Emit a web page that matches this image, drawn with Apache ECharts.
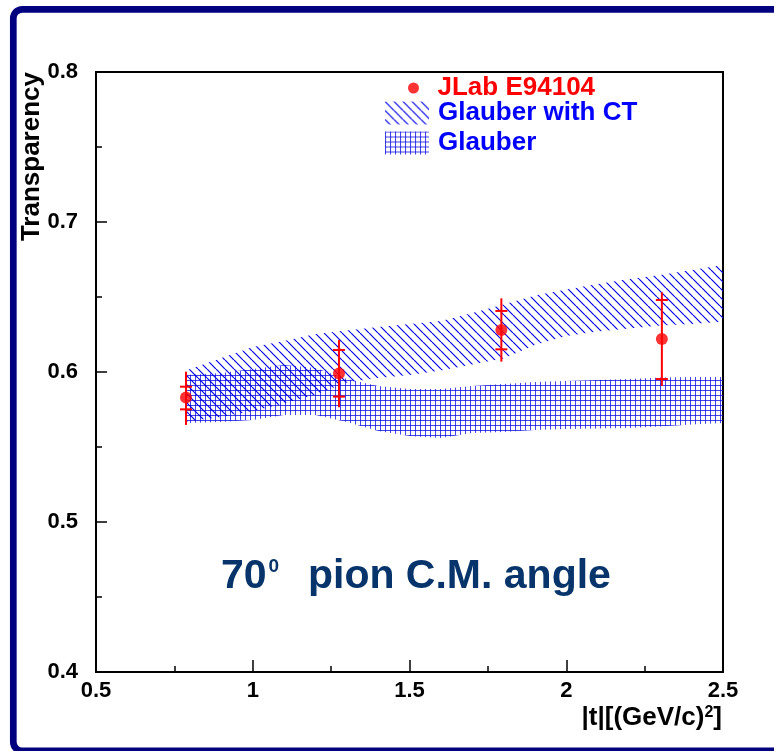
<!DOCTYPE html>
<html>
<head>
<meta charset="utf-8">
<script src="https://cdn.jsdelivr.net/npm/echarts@6/dist/echarts.min.js"></script>
<style>
html, body { margin: 0; padding: 0; background: #fff; }
#chart { width: 774px; height: 751px; }
</style>
</head>
<body>
<div id="chart"></div>
<script>
// 数据点 JLab E94104
const tVals = [0.787, 1.275, 1.793, 2.305]
const transp = [0.583, 0.599, 0.628, 0.622]
const statLo = [0.5751, 0.5836, 0.6151, 0.5953]
const statHi = [0.5902, 0.6147, 0.6407, 0.648]
const totLo = [0.5647, 0.5765, 0.6069, 0.5907]
const totHi = [0.6002, 0.6213, 0.6491, 0.6531]

// 理论带
const bandX = [0.787, 0.9, 1.0, 1.1, 1.2, 1.3, 1.4, 1.5, 1.6, 1.7, 1.8, 1.9, 2.0, 2.1, 2.2, 2.3, 2.4, 2.5]
const ctHigh = [0.601, 0.6093, 0.6167, 0.6207, 0.6253, 0.6277, 0.630, 0.632, 0.634, 0.6393, 0.645, 0.651, 0.655, 0.6587, 0.662, 0.6647, 0.668, 0.6713]
const ctLow = [0.567, 0.570, 0.574, 0.579, 0.585, 0.593, 0.596, 0.598, 0.601, 0.605, 0.609, 0.618, 0.624, 0.627, 0.629, 0.631, 0.632, 0.6335]
const glHigh = [0.598, 0.5993, 0.602, 0.6047, 0.6027, 0.5953, 0.5907, 0.5887, 0.5887, 0.5907, 0.592, 0.5933, 0.594, 0.5947, 0.5953, 0.5963, 0.5967, 0.5967]
const glLow = [0.566, 0.5667, 0.568, 0.5713, 0.5713, 0.5667, 0.5607, 0.5573, 0.556, 0.5593, 0.56, 0.5613, 0.562, 0.5623, 0.5627, 0.5637, 0.565, 0.566]

// 坐标轴
const xRange = [0.5, 2.5]
const yRange = [0.4, 0.8]

const FONT = '"Liberation Sans", Arial, Helvetica, sans-serif'

// 阴影图案
const makeHatch = (type) => {
	const c = document.createElement('canvas')
	const ctx = c.getContext('2d')
	if (type === 'diag') {
		c.width = 9; c.height = 9
		ctx.strokeStyle = 'rgba(0,0,230,1)'
		ctx.lineWidth = 1.2
		ctx.beginPath()
		for (let o = -9; o <= 9; o += 9) {
			ctx.moveTo(o, 0)
			ctx.lineTo(o + 9, 9)
		}
		ctx.stroke()
	} else {
		c.width = 5; c.height = 5
		ctx.fillStyle = 'rgba(20,20,225,0.8)'
		ctx.fillRect(0, 0, 1, 5)
		ctx.fillRect(0, 0, 5, 1)
	}
	return { image: c, repeat: 'repeat' }
}
const ctFill = makeHatch('diag')
const glFill = makeHatch('grid')

const bandSeries = (name, lo, hi, fill) => ({
	name,
	type: 'custom',
	data: [[bandX[0], lo[0]]],
	itemStyle: { color: fill },
	renderItem: (params, api) => {
		const pts = []
		bandX.forEach((x, i) => pts.push(api.coord([x, hi[i]])))
		for (let i = bandX.length - 1; i >= 0; i--) pts.push(api.coord([bandX[i], lo[i]]))
		return { type: 'polygon', shape: { points: pts }, style: { fill: fill, stroke: null } }
	}
})

const myChart = echarts.init(document.getElementById('chart'))
const option = {
	animation: false,
	backgroundColor: '#fff',
	grid: {
		left: 96, top: 72, width: 627, height: 600,
		show: true, borderColor: '#000', borderWidth: 2
	},
	xAxis: {
		type: 'value', min: xRange[0], max: xRange[1], interval: 0.5,
		axisLine: { show: false },
		splitLine: { show: false },
		axisTick: { inside: true, length: 12, lineStyle: { color: '#000', width: 1.5 } },
		minorTick: { show: true, splitNumber: 2, length: 6, lineStyle: { color: '#000', width: 1.5 } },
		axisLabel: { margin: 8, color: '#000', fontFamily: FONT, fontWeight: 'bold', fontSize: 22 }
	},
	yAxis: {
		type: 'value', min: yRange[0], max: yRange[1], interval: 0.1,
		axisLine: { show: false },
		splitLine: { show: false },
		axisTick: { inside: true, length: 11, lineStyle: { color: '#000', width: 1.5 } },
		minorTick: { show: true, splitNumber: 2, length: 6, lineStyle: { color: '#000', width: 1.5 } },
		axisLabel: { margin: 18, color: '#000', fontFamily: FONT, fontWeight: 'bold', fontSize: 22,
			formatter: (v) => v.toFixed(1) }
	},
	legend: [
		{
			orient: 'vertical', left: 408, top: 75, padding: 0,
			itemWidth: 12, itemHeight: 11, icon: 'circle',
			data: ['JLab E94104'],
			textStyle: { color: '#ff0000', fontFamily: FONT, fontWeight: 'bold', fontSize: 26, lineHeight: 26, padding: [0, 0, 0, 13] }
		},
		{
			orient: 'vertical', left: 385, top: 100, padding: 0, itemGap: 4,
			itemWidth: 44, itemHeight: 23, icon: 'rect',
			data: [
				{ name: 'Glauber with CT', itemStyle: { color: ctFill } },
				{ name: 'Glauber', itemStyle: { color: glFill } }
			],
			textStyle: { color: '#0000ff', fontFamily: FONT, fontWeight: 'bold', fontSize: 26, lineHeight: 26, padding: [0, 0, 0, 4] }
		}
	],
	graphic: [
		{
			type: 'rect', silent: true, z: 100,
			shape: { x: 13.3, y: 9.3, width: 900, height: 741.6, r: 9 },
			style: { fill: null, stroke: '#01017f', lineWidth: 6.7 }
		},
		{
			type: 'text', x: 32, y: 72, rotation: Math.PI / 2,
			style: { text: 'Transparency', align: 'right', verticalAlign: 'middle',
				fontFamily: FONT, fontWeight: 'bold', fontSize: 26, fill: '#000' }
		},
		{
			type: 'text', x: 722, y: 718,
			style: { text: '{n||t|[(GeV/c)}{s|2}{n|]}', align: 'right', verticalAlign: 'middle',
				fontFamily: FONT, fontWeight: 'bold', fontSize: 26, fill: '#000',
				rich: {
					n: { fontFamily: FONT, fontWeight: 'bold', fontSize: 26, lineHeight: 26, fill: '#000' },
					s: { fontFamily: FONT, fontWeight: 'bold', fontSize: 16, lineHeight: 12, verticalAlign: 'top', fill: '#000' }
				} }
		},
		{
			type: 'text', x: 221, y: 577,
			style: { text: '{n|70}{s|0}{n|  pion C.M. angle}', align: 'left', verticalAlign: 'middle',
				fontFamily: FONT, fontWeight: 'bold', fontSize: 41, fill: '#07346a',
				rich: {
					n: { fontFamily: FONT, fontWeight: 'bold', fontSize: 41, lineHeight: 44, fill: '#07346a' },
					s: { fontFamily: FONT, fontWeight: 'bold', fontSize: 19, lineHeight: 14, verticalAlign: 'top', fill: '#07346a', padding: [2, 6, 0, 2] }
				} }
		}
	],
	series: [
		bandSeries('Glauber', glLow, glHigh, glFill),
		bandSeries('Glauber with CT', ctLow, ctHigh, ctFill),
		{
			type: 'custom',
			name: 'err',
			z: 3,
			data: tVals.map((t, i) => [t, totLo[i], totHi[i], statLo[i], statHi[i]]),
			renderItem: (params, api) => {
				const x = api.value(0)
				const bot = api.coord([x, api.value(1)])
				const top = api.coord([x, api.value(2)])
				const s1 = api.coord([x, api.value(3)])
				const s2 = api.coord([x, api.value(4)])
				const st = { stroke: '#ff0000', lineWidth: 2 }
				return {
					type: 'group',
					children: [
						{ type: 'line', shape: { x1: top[0], y1: top[1], x2: bot[0], y2: bot[1] }, style: st },
						{ type: 'line', shape: { x1: s1[0] - 6, y1: s1[1], x2: s1[0] + 6, y2: s1[1] }, style: st },
						{ type: 'line', shape: { x1: s2[0] - 6, y1: s2[1], x2: s2[0] + 6, y2: s2[1] }, style: st }
					]
				}
			}
		},
		{
			name: 'JLab E94104',
			type: 'scatter',
			z: 4,
			symbol: 'circle',
			symbolSize: 12,
			itemStyle: { color: '#ff0000' },
			data: tVals.map((t, i) => [t, transp[i]])
		}
	]
}

option && myChart.setOption(option)
</script>
</body>
</html>
